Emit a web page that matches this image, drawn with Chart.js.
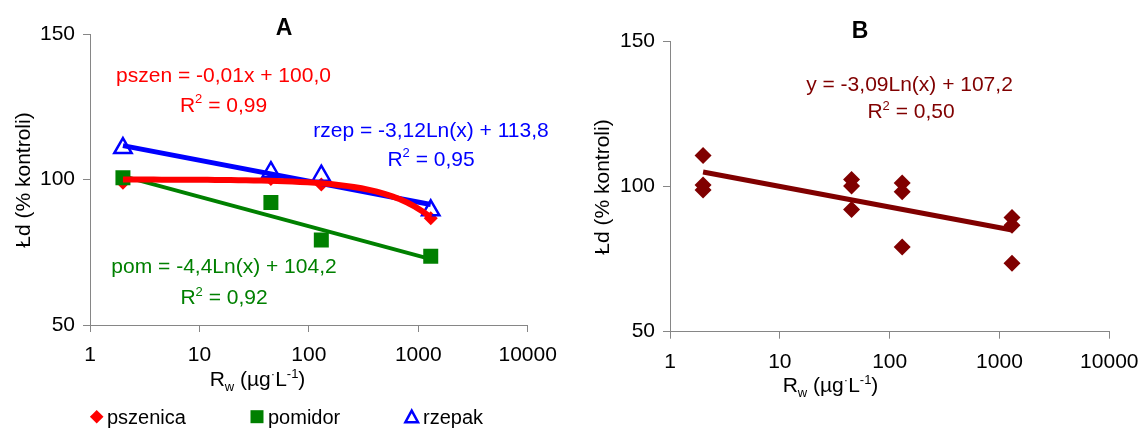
<!DOCTYPE html>
<html>
<head>
<meta charset="utf-8">
<script src="https://cdn.jsdelivr.net/npm/chart.js"></script>
<style>
    body { margin: 0; background: #fff; }
    #wrap { position: relative; width: 1141px; height: 428px; }
    canvas { position: absolute; top: 0; }
    #chart-a { left: 0; }
    #chart-b { left: 570px; }
</style>
</head>
<body>
<div id="wrap">
    <canvas id="chart-a" width="570" height="428"></canvas>
    <canvas id="chart-b" width="571" height="428"></canvas>
</div>
<script>
// doses (ug/L) and germination (% of control)
var doses = [2, 45, 130, 1300];
var pszenica = [98.9, 100.2, 98.3, 86.7];
var pomidor = [100.6, 92.1, 79.2, 73.6];
var rzepak = [110.8, 102.5, 101.3, 89.4];

// fitted trendlines [a, b]
var pszenFit = [-0.01, 100.0];   // y = a*x + b
var pomFit = [-4.4, 104.2];      // y = a*ln(x) + b
var rzepFit = [-3.12, 113.8];
var allFit = [-3.09, 107.2];

var xTicks = [1, 10, 100, 1000, 10000];
var yTicks = [50, 100, 150];

var family = '"Liberation Sans", Arial, sans-serif';
var axisGrey = '#868686';

Chart.defaults.font.family = family;
Chart.defaults.font.size = 21;
Chart.defaults.color = '#000';

function points(values) {
    return doses.map(function(d, i) { return {x: d, y: values[i]}; });
}

function lnTrend(fit) {
    var lo = doses[0], hi = doses[doses.length - 1];
    return [lo, hi].map(function(x) { return {x: x, y: fit[0] * Math.log(x) + fit[1]}; });
}

function linTrend(fit) {
    var lo = doses[0], hi = doses[doses.length - 1];
    var pts = [];
    for (var i = 0; i <= 40; i++) {
        var x = lo * Math.pow(hi / lo, i / 40);
        pts.push({x: x, y: fit[0] * x + fit[1]});
    }
    return pts;
}

// draws a line of text made of normal / sup / sub pieces, centred on cx
function drawRuns(ctx, runs, cx, y, size, color, weight) {
    var parts = runs.map(function(r) {
        var s = r[1] ? Math.round(size * 0.62) : size;
        var font = (weight || 'normal') + ' ' + s + 'px ' + family;
        ctx.font = font;
        var dy = r[1] === 'sup' ? -size * 0.4 : (r[1] === 'sub' ? size * 0.22 : 0);
        return {t: r[0], font: font, w: ctx.measureText(r[0]).width, dy: dy};
    });
    var total = parts.reduce(function(a, p) { return a + p.w; }, 0);
    var x = cx - total / 2;
    ctx.fillStyle = color;
    ctx.textAlign = 'left';
    ctx.textBaseline = 'alphabetic';
    parts.forEach(function(p) {
        ctx.font = p.font;
        ctx.fillText(p.t, x, y + p.dy);
        x += p.w;
    });
}

var xTitle = [['R', ''], ['w', 'sub'], [' (\u00b5g', ''], ['\u00b7', 'sup'], ['L', ''], ['-1', 'sup'], [')', '']];
var yTitle = [['\u0141d (% kontroli)', '']];

// titles, equations and axis labels
var textPlugin = {
    id: 'texts',
    afterDraw: function(chart, args, opts) {
        var ctx = chart.ctx;
        ctx.save();
        opts.items.forEach(function(it) {
            drawRuns(ctx, it.runs, it.x, it.y, it.size || 21, it.color || '#000', it.weight);
        });
        ctx.translate(opts.yTitle.x, opts.yTitle.y);
        ctx.rotate(-Math.PI / 2);
        drawRuns(ctx, yTitle, 0, 0, 21, '#000');
        ctx.restore();
    }
};

// legend under chart A
var keyPlugin = {
    id: 'key',
    afterDraw: function(chart, args, opts) {
        if (!opts.show) return;
        var ctx = chart.ctx, y = 416.7;
        ctx.save();
        ctx.fillStyle = '#ff0000';
        ctx.beginPath();
        ctx.moveTo(96.7, y - 6.8); ctx.lineTo(103.5, y); ctx.lineTo(96.7, y + 6.8); ctx.lineTo(89.9, y);
        ctx.closePath(); ctx.fill();
        ctx.fillStyle = '#008000';
        ctx.fillRect(250.5, y - 6.5, 13, 13);
        ctx.strokeStyle = '#0000ff';
        ctx.lineWidth = 2.5;
        ctx.beginPath();
        ctx.moveTo(411.7, y - 6); ctx.lineTo(418, y + 5.5); ctx.lineTo(405.4, y + 5.5);
        ctx.closePath(); ctx.stroke();
        ctx.fillStyle = '#000';
        ctx.font = '20px ' + family;
        ctx.textBaseline = 'alphabetic';
        ctx.fillText('pszenica', 107, 423.5);
        ctx.fillText('pomidor', 268, 423.5);
        ctx.fillText('rzepak', 423, 423.5);
        ctx.restore();
    }
};

function scales(yWidth, xHeight) {
    return {
        x: {
            type: 'logarithmic',
            min: 1,
            max: 10000,
            afterBuildTicks: function(s) { s.ticks = xTicks.map(function(v) { return {value: v}; }); },
            afterFit: function(s) {
                s.height = xHeight;
                // plot edges come from the layout padding, not the end labels
                s.paddingLeft = 0;
                s.paddingRight = 0;
            },
            ticks: {
                autoSkip: false,
                maxRotation: 0,
                padding: 11,
                callback: function(v) { return String(v); }
            },
            grid: {drawOnChartArea: false, tickLength: 7, color: axisGrey},
            border: {color: axisGrey, width: 1}
        },
        y: {
            min: 50,
            max: 150,
            afterBuildTicks: function(s) { s.ticks = yTicks.map(function(v) { return {value: v}; }); },
            afterFit: function(s) {
                s.width = yWidth;
                s.paddingTop = 0;
                s.paddingBottom = 0;
            },
            ticks: {padding: 8},
            grid: {drawOnChartArea: false, tickLength: 7, color: axisGrey},
            border: {color: axisGrey, width: 1}
        }
    };
}

var common = {
    responsive: false,
    animation: false,
    events: [],
    devicePixelRatio: 1
};

new Chart(document.getElementById('chart-a'), {
    type: 'scatter',
    data: {
        datasets: [
            {label: 'pszen', data: linTrend(pszenFit), showLine: true, borderColor: '#ff0000', borderWidth: 6, pointRadius: 0, order: 1},
            {label: 'rzep', data: lnTrend(rzepFit), showLine: true, borderColor: '#0000ff', borderWidth: 5, pointRadius: 0, order: 2},
            {label: 'pom', data: lnTrend(pomFit), showLine: true, borderColor: '#008000', borderWidth: 4, pointRadius: 0, order: 3},
            {label: 'pomidor', data: points(pomidor), pointStyle: 'rect', pointRadius: 10.6,
             backgroundColor: '#008000', borderColor: '#008000', borderWidth: 0, order: 4},
            {label: 'rzepak', data: points(rzepak), pointStyle: 'triangle', pointRadius: 10,
             backgroundColor: 'rgba(0,0,0,0)', borderColor: '#0000ff', borderWidth: 2.5, order: 5},
            {label: 'pszenica', data: points(pszenica), pointStyle: 'rectRot', pointRadius: 7,
             backgroundColor: '#ff0000', borderColor: '#ff0000', borderWidth: 0, order: 6}
        ]
    },
    options: Object.assign({}, common, {
        layout: {padding: {left: 0, top: 34, right: 42.3, bottom: 0}},
        scales: scales(90, 103),
        plugins: {
            legend: {display: false},
            tooltip: {enabled: false},
            key: {show: true},
            texts: {
                yTitle: {x: 30, y: 180},
                items: [
                    {runs: [['A', '']], x: 284, y: 35, size: 23, weight: 'bold'},
                    {runs: [['pszen = -0,01x + 100,0', '']], x: 223.5, y: 81.7, color: '#ff0000'},
                    {runs: [['R', ''], ['2', 'sup'], [' = 0,99', '']], x: 223.5, y: 111.7, color: '#ff0000'},
                    {runs: [['rzep = -3,12Ln(x) + 113,8', '']], x: 431, y: 136.7, color: '#0000ff'},
                    {runs: [['R', ''], ['2', 'sup'], [' = 0,95', '']], x: 431, y: 165.7, color: '#0000ff'},
                    {runs: [['pom = -4,4Ln(x) + 104,2', '']], x: 224, y: 273, color: '#008000'},
                    {runs: [['R', ''], ['2', 'sup'], [' = 0,92', '']], x: 224, y: 304, color: '#008000'},
                    {runs: xTitle, x: 257.5, y: 386}
                ]
            }
        }
    }),
    plugins: [textPlugin, keyPlugin]
});

// chart B pools all three crops
var allPoints = points(pszenica).concat(points(pomidor), points(rzepak));

new Chart(document.getElementById('chart-b'), {
    type: 'scatter',
    data: {
        datasets: [
            {label: 'y', data: lnTrend(allFit), showLine: true, borderColor: '#800000', borderWidth: 5, pointRadius: 0, order: 1},
            {label: 'all', data: allPoints, pointStyle: 'rectRot', pointRadius: 8.5,
             backgroundColor: '#800000', borderColor: '#800000', borderWidth: 0, order: 2}
        ]
    },
    options: Object.assign({}, common, {
        layout: {padding: {left: 0, top: 41.7, right: 31.7, bottom: 0}},
        scales: scales(100, 96.3),
        plugins: {
            legend: {display: false},
            tooltip: {enabled: false},
            key: {show: false},
            texts: {
                yTitle: {x: 39, y: 187},
                items: [
                    {runs: [['B', '']], x: 290, y: 38.3, size: 23, weight: 'bold'},
                    {runs: [['y = -3,09Ln(x) + 107,2', '']], x: 339.5, y: 91, color: '#800000'},
                    {runs: [['R', ''], ['2', 'sup'], [' = 0,50', '']], x: 341, y: 118.3, color: '#800000'},
                    {runs: xTitle, x: 260.5, y: 392}
                ]
            }
        }
    }),
    plugins: [textPlugin, keyPlugin]
});
</script>
</body>
</html>
